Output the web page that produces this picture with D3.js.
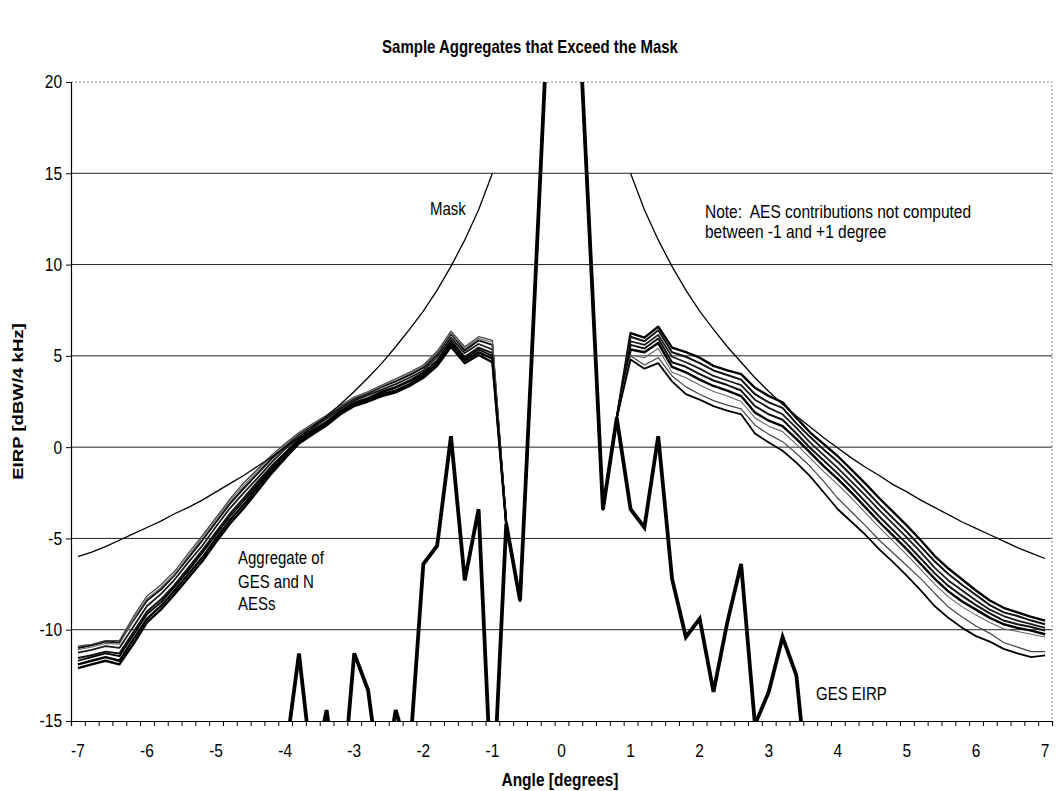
<!DOCTYPE html>
<html>
<head>
<meta charset="utf-8">
<script src="https://cdn.jsdelivr.net/npm/d3@7"></script>
<style>
  body { margin: 0; background: #fff; }
  text { font-family: Arial, "Liberation Sans", sans-serif; white-space: pre; }
</style>
</head>
<body>
<div id="chart"></div>
<script>
// ---------------- data ----------------
// angles -7 .. 7 every 0.2 degree (category axis)
var angles = d3.range(71).map(function(i) { return +(-7 + i * 0.2).toFixed(1); });
var tickLabels = [-7, -6, -5, -4, -3, -2, -1, 0, 1, 2, 3, 4, 5, 6, 7];
var yTicks = [-15, -10, -5, 0, 5, 10, 15, 20];

// GES EIRP, values below -15 are off the chart
var ges = [-20, -20, -20, -20, -20, -20, -20, -20, -20, -20, -20, -20, -20, -20, -20,
  -17, -11.3, -18, -14.4, -20, -11.3, -13.3, -19, -14.4, -17, -6.4, -5.4, 0.6, -7.3, -3.4, -20,
  -4.2, -8.4, 7.4, 23.4, 35, 27.7, 12.2, -3.4, 1.6,
  -3.4, -4.4, 0.6, -7.2, -10.4, -9.4, -13.4, -9.6, -6.4, -15.2, -13.4, -10.4, -12.5, -20,
  -20, -20, -20, -20, -20, -20, -20, -20, -20, -20, -20, -20, -20, -20, -20, -20, -20];

// mask, -7 .. -1 and 1 .. 7
var maskLeft = [-6.0, -5.75, -5.45, -5.1, -4.75, -4.4, -4.05, -3.65, -3.3, -2.9, -2.45, -2.0, -1.55, -1.05,
  -0.55, 0.0, 0.55, 1.1, 1.7, 2.35, 3.05, 3.8, 4.6, 5.5, 6.45, 7.45, 8.6, 9.9, 11.35, 13.0, 15.0];
var maskRight = [15.0, 13.0, 11.35, 9.9, 8.6, 7.45, 6.45, 5.5, 4.65, 3.8, 3.05, 2.35, 1.7, 1.1, 0.5, -0.05,
  -0.6, -1.1, -1.55, -2.05, -2.45, -2.9, -3.3, -3.7, -4.1, -4.45, -4.8, -5.15, -5.5, -5.8, -6.1];

// aggregates of GES and N AESs, -7 .. -1
var aggLeft = [
  [-11.9, -11.7, -11.5, -11.7, -10.55, -9.4, -8.7, -7.85, -6.95, -6.05, -5.0, -4.0, -3.15, -2.2, -1.3, -0.5, 0.3, 0.8, 1.3, 1.9, 2.35, 2.6, 2.9, 3.1, 3.45, 3.9, 4.55, 5.65, 4.75, 5.2, 4.85],
  [-11.55, -11.4, -11.2, -11.3, -10.15, -9.0, -8.35, -7.55, -6.6, -5.65, -4.65, -3.65, -2.8, -1.9, -1.05, -0.3, 0.45, 0.95, 1.4, 2.0, 2.45, 2.7, 3.05, 3.3, 3.65, 4.1, 4.75, 5.85, 4.95, 5.45, 5.15],
  [-11.25, -11.1, -10.9, -11.0, -9.85, -8.7, -8.05, -7.25, -6.3, -5.4, -4.35, -3.35, -2.5, -1.7, -0.85, -0.1, 0.55, 1.05, 1.55, 2.1, 2.55, 2.85, 3.15, 3.45, 3.8, 4.2, 4.95, 6.0, 5.15, 5.65, 5.35],
  [-11.0, -10.85, -10.65, -10.7, -9.5, -8.4, -7.8, -7.0, -6.05, -5.1, -4.1, -3.1, -2.25, -1.45, -0.65, 0.05, 0.7, 1.2, 1.65, 2.2, 2.65, 2.95, 3.3, 3.6, 3.95, 4.35, 5.1, 6.2, 5.3, 5.85, 5.6],
  [-12.1, -11.9, -11.7, -11.9, -10.8, -9.6, -8.9, -8.05, -7.15, -6.25, -5.2, -4.2, -3.35, -2.4, -1.45, -0.6, 0.2, 0.7, 1.2, 1.8, 2.25, 2.5, 2.8, 3.0, 3.35, 3.8, 4.45, 5.5, 4.6, 5.05, 4.65],
  [-10.9, -10.8, -10.6, -10.6, -9.3, -8.15, -7.55, -6.8, -5.8, -4.85, -3.85, -2.85, -1.95, -1.2, -0.45, 0.2, 0.8, 1.3, 1.75, 2.3, 2.75, 3.05, 3.4, 3.75, 4.1, 4.5, 5.25, 6.35, 5.5, 6.05, 5.85],
  [-11.1, -10.95, -10.75, -10.8, -9.45, -8.3, -7.7, -6.95, -5.95, -4.95, -3.95, -2.95, -2.1, -1.3, -0.55, 0.1, 0.75, 1.25, 1.7, 2.25, 2.7, 3.0, 3.35, 3.7, 4.05, 4.45, 5.15, 6.25, 5.4, 5.95, 5.75],
  [-11.7, -11.5, -11.3, -11.45, -10.3, -9.15, -8.5, -7.65, -6.75, -5.8, -4.8, -3.8, -2.95, -2.05, -1.15, -0.35, 0.4, 0.9, 1.35, 1.95, 2.4, 2.65, 3.0, 3.25, 3.6, 4.0, 4.7, 5.75, 4.85, 5.35, 5.0]
];
// same series, 1 .. 7
var aggRight = [
  [6.25, 6.0, 6.6, 5.45, 5.2, 4.9, 4.45, 4.2, 4.0, 3.25, 2.8, 2.45, 1.6, 0.8, 0.15, -0.5, -1.25, -2.0, -2.8, -3.55, -4.3, -5.1, -5.95, -6.65, -7.25, -7.85, -8.4, -8.8, -9.05, -9.3, -9.5],
  [6.05, 5.8, 6.4, 5.2, 4.95, 4.6, 4.2, 3.95, 3.7, 2.9, 2.45, 2.15, 1.3, 0.55, -0.15, -0.8, -1.55, -2.35, -3.15, -3.9, -4.65, -5.45, -6.25, -6.95, -7.55, -8.1, -8.65, -9.05, -9.25, -9.5, -9.7],
  [5.8, 5.6, 6.15, 4.95, 4.65, 4.3, 3.9, 3.65, 3.4, 2.6, 2.15, 1.8, 1.05, 0.25, -0.45, -1.15, -1.9, -2.65, -3.45, -4.2, -4.95, -5.75, -6.6, -7.3, -7.85, -8.4, -8.9, -9.25, -9.5, -9.7, -9.9],
  [5.6, 5.4, 5.95, 4.65, 4.4, 4.0, 3.65, 3.4, 3.1, 2.25, 1.8, 1.5, 0.75, -0.05, -0.75, -1.45, -2.2, -3.0, -3.8, -4.55, -5.3, -6.1, -6.9, -7.6, -8.15, -8.65, -9.1, -9.5, -9.7, -9.85, -10.05],
  [5.35, 5.2, 5.7, 4.4, 4.1, 3.7, 3.35, 3.1, 2.8, 1.9, 1.45, 1.15, 0.45, -0.3, -1.05, -1.75, -2.5, -3.3, -4.1, -4.85, -5.6, -6.4, -7.2, -7.9, -8.45, -8.9, -9.35, -9.7, -9.9, -10.05, -10.25],
  [5.0, 4.5, 4.9, 3.9, 3.3, 2.9, 2.55, 2.3, 2.1, 1.2, 0.7, 0.3, -0.35, -1.05, -1.9, -2.8, -3.55, -4.3, -5.1, -5.8, -6.5, -7.2, -8.0, -8.75, -9.3, -9.8, -10.2, -10.7, -10.95, -11.2, -11.2],
  [5.05, 4.9, 5.4, 4.1, 3.8, 3.4, 3.05, 2.8, 2.5, 1.6, 1.15, 0.85, 0.15, -0.6, -1.35, -2.05, -2.8, -3.6, -4.4, -5.15, -5.9, -6.7, -7.5, -8.2, -8.75, -9.2, -9.6, -9.95, -10.1, -10.25, -10.4],
  [4.8, 4.3, 4.6, 3.6, 2.9, 2.6, 2.25, 2.0, 1.8, 0.75, 0.25, -0.2, -0.85, -1.6, -2.5, -3.4, -4.1, -4.8, -5.6, -6.3, -7.05, -7.85, -8.7, -9.35, -9.9, -10.35, -10.65, -11.05, -11.3, -11.5, -11.4]
];

// line look of each aggregate
var aggWidth = [2.4, 2.0, 1.8, 2.0, 2.4, 1.2, 1.1, 1.8];
var aggColor = ["#000", "#111", "#1a1a1a", "#111", "#000", "#444", "#666", "#000"];

// ---------------- chart space ----------------
var width = 1057, height = 791;
var pLeft = 71, pRight = 1052, pTop = 82, pBottom = 721;
// the scanned chart is stretched a bit in height, texts too
var stretch = 1.2;

var svg = d3.select("#chart").append("svg")
  .attr("width", width)
  .attr("height", height);

var x = d3.scaleLinear().domain([-7.1, 7.1]).range([pLeft, pRight]);
var y = d3.scaleLinear().domain([-15, 20]).range([pBottom, pTop]);

svg.append("defs").append("clipPath").attr("id", "plot")
  .append("rect")
  .attr("x", pLeft).attr("y", pTop)
  .attr("width", pRight - pLeft).attr("height", pBottom - pTop);

// gridlines
svg.append("g")
  .selectAll("line")
  .data(yTicks.filter(function(d) { return d > -15 && d < 20; }))
  .enter().append("line")
  .attr("x1", pLeft).attr("x2", pRight)
  .attr("y1", function(d) { return y(d); })
  .attr("y2", function(d) { return y(d); })
  .attr("stroke", "#222")
  .attr("stroke-width", 1);

// dotted border on top and right
svg.append("path")
  .attr("d", "M" + pLeft + "," + y(20) + "H" + pRight + "V" + y(-15))
  .attr("fill", "none")
  .attr("stroke", "#888")
  .attr("stroke-dasharray", "2,2");

// ---------------- lines ----------------
var line = d3.line()
  .defined(function(d) { return d[1] != null; })
  .x(function(d) { return x(d[0]); })
  .y(function(d) { return y(d[1]); });

var plot = svg.append("g").attr("clip-path", "url(#plot)");

var gesMid = ges.slice(31, 40);

aggLeft.forEach(function(lv, i) {
  var vals = lv.concat(gesMid, aggRight[i]);
  plot.append("path")
    .datum(angles.map(function(a, j) { return [a, vals[j]]; }))
    .attr("d", line)
    .attr("fill", "none")
    .attr("stroke", aggColor[i])
    .attr("stroke-width", aggWidth[i])
    .attr("stroke-linejoin", "round");
});

var maskVals = maskLeft.concat(d3.range(9).map(function() { return null; }), maskRight);
plot.append("path")
  .datum(angles.map(function(a, j) { return [a, maskVals[j]]; }))
  .attr("d", line)
  .attr("fill", "none")
  .attr("stroke", "#000")
  .attr("stroke-width", 1.3);

plot.append("path")
  .datum(angles.map(function(a, j) { return [a, ges[j]]; }))
  .attr("d", line)
  .attr("fill", "none")
  .attr("stroke", "#000")
  .attr("stroke-width", 3.8)
  .attr("stroke-linejoin", "miter");

// ---------------- axes ----------------
var yAxis = d3.axisLeft(y).tickValues(yTicks).tickSize(5).tickPadding(4).tickFormat(String);
var gy = svg.append("g")
  .attr("transform", "translate(" + pLeft + ",0)")
  .call(yAxis);
gy.select(".domain").attr("stroke", "#000").attr("stroke-width", 1.2);
gy.selectAll("text")
  .style("font-size", "15.5px")
  .attr("fill", "#000")
  .attr("transform", "scale(1," + stretch + ")");

// small ticks between categories
var bTicks = d3.range(72).map(function(i) { return -7.1 + i * 0.2; });
var xAxis = d3.axisBottom(x).tickValues(bTicks).tickSize(5).tickFormat("");
var gx = svg.append("g")
  .attr("transform", "translate(0," + pBottom + ")")
  .call(xAxis);
gx.select(".domain").attr("stroke", "#000").attr("stroke-width", 1.2);

// text helper: place at baseline, stretched like the scan
function label(px, py, str, size, bold, anchor) {
  return svg.append("text")
    .attr("transform", "translate(" + px + "," + py + ")scale(1," + stretch + ")")
    .attr("text-anchor", anchor || "start")
    .style("font-size", size + "px")
    .style("font-weight", bold ? "bold" : "normal")
    .text(str);
}

tickLabels.forEach(function(d) {
  label(x(d), 757, String(d), 15.5, false, "middle");
});

// ---------------- texts ----------------
label(530, 53, "Sample Aggregates that Exceed the Mask", 15, true, "middle");
label(560, 786, "Angle [degrees]", 15.5, true, "middle");

svg.append("text")
  .attr("transform", "translate(23," + ((pTop + pBottom) / 2) + ")scale(1," + stretch + ")rotate(-90)")
  .attr("text-anchor", "middle")
  .style("font-size", "15.5px").style("font-weight", "bold")
  .text("EIRP [dBW/4 kHz]");

label(430, 215, "Mask", 15);
label(705, 218, "Note:  AES contributions not computed", 15.5);
label(705, 238, "between -1 and +1 degree", 15.5);

label(238, 564, "Aggregate of", 15);
label(238, 588, "GES and N", 15);
label(238, 610, "AESs", 15);

label(816, 700, "GES EIRP", 15);
</script>
</body>
</html>
